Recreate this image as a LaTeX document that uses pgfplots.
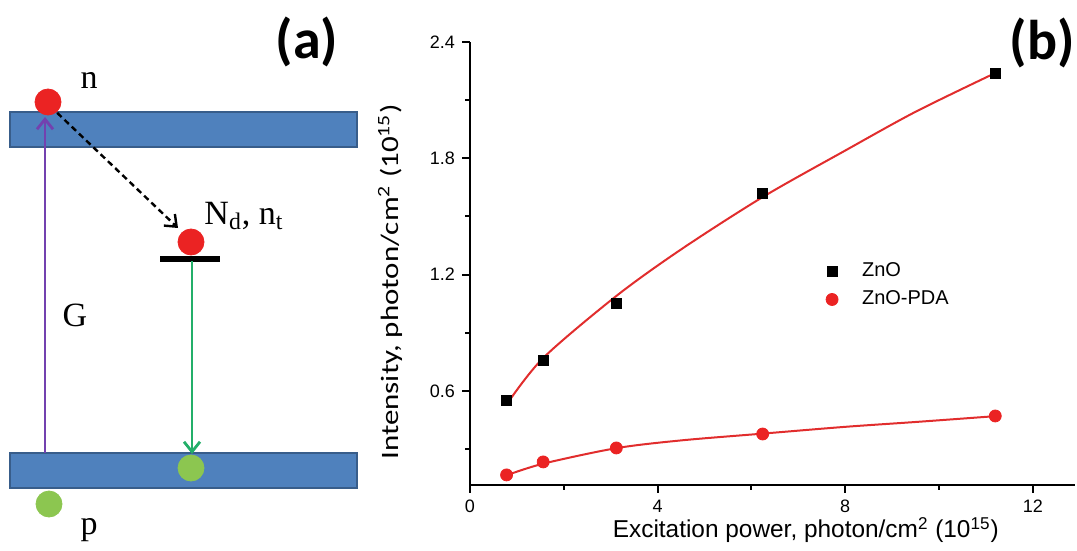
\documentclass[border=0pt]{standalone}
\usepackage{fontspec}
\setmainfont{Liberation Sans}
\newfontfamily\seriffont{Liberation Serif}
\newfontfamily\calfont{Carlito}
\usepackage{graphicx}
\usepackage{pgfplots}
\pgfplotsset{compat=1.18}
\usetikzlibrary{arrows.meta}
\definecolor{barblue}{RGB}{79,129,189}
\definecolor{baredge}{RGB}{56,93,138}
\definecolor{dotred}{RGB}{235,35,35}
\definecolor{dotgreen}{RGB}{140,198,80}
\definecolor{arrgreen}{RGB}{35,175,105}
\definecolor{arrpurple}{RGB}{115,65,175}
\definecolor{fitred}{RGB}{225,45,45}
\begin{document}
\begin{tikzpicture}[x=1pt,y=1pt]
\useasboundingbox (0,0) rectangle (538.5,275.5);
% ---------------- panel (a): band diagram, in pixel coordinates ----------------
\begin{axis}[at={(0pt,0pt)}, anchor=south west, scale only axis,
  width=538.5pt, height=275.5pt, xmin=0, xmax=1077, ymin=0, ymax=551,
  y dir=reverse, hide axis, clip=false]
\draw[baredge, fill=barblue, line width=0.6pt] (axis cs:10,112) rectangle (axis cs:357,147);
\draw[baredge, fill=barblue, line width=0.6pt] (axis cs:10,453) rectangle (axis cs:357,488);
\draw[arrpurple, line width=1.4pt, -{Straight Barb[length=5pt,width=8pt]}] (axis cs:45,453) -- (axis cs:45,117);
\addplot[only marks, mark=*, mark size=6.5pt, color=dotred, mark options={draw=dotred}] coordinates {(48,102) (191,242)};
\addplot[only marks, mark=*, mark size=6.5pt, color=dotgreen, mark options={draw=dotgreen}] coordinates {(191,468) (49,504)};
\draw[black, line width=1.2pt, dash pattern=on 3pt off 2pt, -{Straight Barb[length=5pt,width=8pt]}] (axis cs:50,106) -- (axis cs:178,228);
\draw[black, line width=2.6pt] (axis cs:160,259) -- (axis cs:220,259);
\draw[arrgreen, line width=1.4pt, -{Straight Barb[length=5pt,width=8pt]}] (axis cs:192,261) -- (axis cs:192,454);
\node[font=\seriffont\fontsize{17}{17}\selectfont] at (axis cs:89,80) {n};
\node[font=\seriffont\fontsize{17}{17}\selectfont] at (axis cs:244,216) {N\textsubscript{d}, n\textsubscript{t}};
\node[font=\seriffont\fontsize{17}{17}\selectfont] at (axis cs:75,315) {G};
\node[font=\seriffont\fontsize{17}{17}\selectfont] at (axis cs:89,530) {p};
\node[font=\calfont\bfseries\fontsize{28}{28}\selectfont] at (axis cs:307,42) {(a)};
\node[font=\calfont\bfseries\fontsize{28}{28}\selectfont] at (axis cs:1042,43) {(b)};
\end{axis}
% ---------------- panel (b): intensity vs excitation power ----------------
\begin{axis}[at={(235pt,33pt)}, anchor=south west, scale only axis,
  width=302.5pt, height=221.5pt,
  xmin=0, xmax=12.9, ymin=0.115, ymax=2.4,
  axis x line*=bottom, axis y line*=left,
  axis line style={line width=1.3pt},
  tick align=outside,
  xtick={0,4,8,12}, ytick={0.6,1.2,1.8,2.4},
  minor xtick={2,6,10}, minor ytick={0.3,0.9,1.5,2.1},
  major tick length=4pt, minor tick length=2.5pt,
  every tick/.style={line width=1pt, black},
  ticklabel style={font=\fontsize{9}{10}\selectfont},
  yticklabel style={/pgf/number format/.cd, fixed, fixed zerofill, precision=1},
  /pgf/number format/assume math mode=true,
  xlabel={Excitation power, photon/cm\textsuperscript{2} (10\textsuperscript{15})},
  ylabel={\scalebox{1.24}[1]{Intensity, photon/cm\textsuperscript{2} (10\textsuperscript{15})}},
  xlabel style={font=\fontsize{12.2}{14}\selectfont, at={(axis description cs:0.555,-0.102)}, anchor=center},
  ylabel style={font=\calfont\fontsize{12.5}{15}\selectfont, at={(axis description cs:-0.132,0.458)}, anchor=center},
  legend style={draw=none, fill=none, at={(axis description cs:0.559,0.52)}, anchor=north west,
    font=\fontsize{10}{11}\selectfont, row sep=1.5pt},
  legend image code/.code={\draw[#1] plot coordinates {(0.3cm,0cm)}; \path (0cm,0cm) (0.75cm,0cm);},
  legend cell align=left,
  clip=false]
\addplot[only marks, mark=square*, mark size=2.5pt, black] coordinates {
  (0.78,0.55) (1.56,0.76) (3.12,1.05) (6.24,1.62) (11.2,2.24)};
\addlegendentry{ZnO}
\addplot[only marks, mark=*, mark size=3pt, dotred, mark options={draw=dotred}] coordinates {
  (0.78,0.167) (1.56,0.234) (3.12,0.306) (6.24,0.378) (11.2,0.471)};
\addlegendentry{ZnO-PDA}
\addplot[fitred, line width=1pt, smooth, no marks, forget plot] coordinates {
  (0.78,0.53) (1.56,0.77) (3.12,1.09) (4.5,1.33) (6.24,1.60) (8,1.84) (9.5,2.04) (11.2,2.24)};
\addplot[fitred, line width=1pt, smooth, no marks, forget plot] coordinates {
  (0.78,0.165) (1.56,0.225) (3.12,0.305) (4.5,0.345) (6.24,0.38) (8,0.415) (9.5,0.44) (11.2,0.47)};
\end{axis}
\end{tikzpicture}
\end{document}
